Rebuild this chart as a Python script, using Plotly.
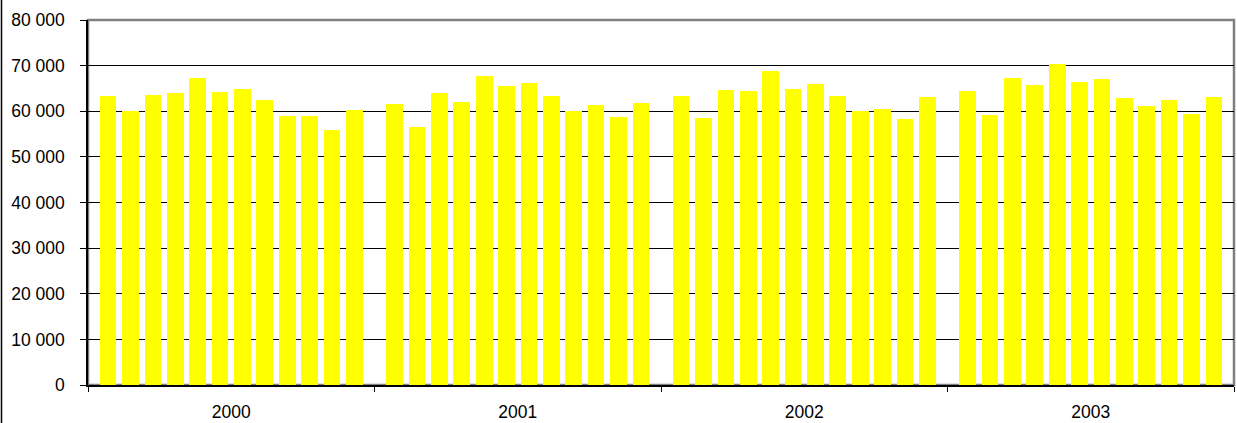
import plotly.graph_objects as go

years = ["2000", "2001", "2002", "2003"]
values_2000 = [63300, 60000, 63500, 63900, 67250, 64200, 64800, 62450, 58950, 58950, 55900, 60250]
values_2001 = [61550, 56550, 63900, 62000, 67700, 65500, 66150, 63300, 60000, 61350, 58700, 61800]
values_2002 = [63300, 58500, 64600, 64400, 68800, 64850, 65950, 63300, 60000, 60450, 58300, 63100]
values_2003 = [64400, 59150, 67250, 65700, 70300, 66350, 67050, 62850, 61100, 62450, 59350, 63100]
y_tickvals = [0, 10000, 20000, 30000, 40000, 50000, 60000, 70000, 80000]
y_ticktext = ["0", "10 000", "20 000", "30 000", "40 000", "50 000", "60 000", "70 000", "80 000"]

series = [values_2000, values_2001, values_2002, values_2003]
YEAR_SPAN = 12.8
OFFSET = (YEAR_SPAN - 11) / 2

xs, ys = [], []
for yi, vals in enumerate(series):
    for m, v in enumerate(vals):
        xs.append(yi * YEAR_SPAN + OFFSET + m)
        ys.append(v)

fig = go.Figure()
fig.add_trace(go.Bar(x=xs, y=ys, width=0.745, marker=dict(color="#FFFF00", line=dict(width=0)),
                     showlegend=False, hoverinfo="y"))

W, H = 1237, 423
ml, mr, mt, mb = 88, 3, 20, 38
fig.update_layout(
    width=W, height=H,
    margin=dict(l=ml, r=mr, t=mt, b=mb, pad=0, autoexpand=False),
    paper_bgcolor="white", plot_bgcolor="white",
    font=dict(family="Liberation Sans, Arial, sans-serif", size=17.5, color="#000000"),
    bargap=0,
)
fig.update_xaxes(
    range=[0, len(years) * YEAR_SPAN],
    tickmode="array",
    tickvals=[yi * YEAR_SPAN + YEAR_SPAN / 2 for yi in range(len(years))],
    ticktext=years,
    ticks="", showgrid=False, zeroline=False,
    showline=True, linecolor="#000000", linewidth=1.5,
    ticklabelstandoff=10,
    automargin=False,
    minor=dict(tickmode="array",
               tickvals=[yi * YEAR_SPAN for yi in range(len(years) + 1)],
               ticks="outside", ticklen=5, tickcolor="#000000", tickwidth=1, showgrid=False),
    fixedrange=True,
)
fig.update_yaxes(
    range=[0, 80000],
    tickmode="array", tickvals=y_tickvals, ticktext=y_ticktext,
    ticks="outside", ticklen=6, tickcolor="#000000", tickwidth=1,
    showgrid=True, gridcolor="#000000", gridwidth=1,
    zeroline=False,
    showline=True, linecolor="#000000", linewidth=1.5,
    ticklabelstandoff=12,
    automargin=False,
    fixedrange=True,
)
# plot-area border (gray top and right)
fig.add_shape(type="rect", xref="paper", yref="paper", x0=0, x1=1, y0=0, y1=1,
              line=dict(color="#808080", width=2.5), layer="below")
# outer chart frame (left edge visible)
fig.add_shape(type="line", xref="paper", yref="paper",
              x0=(1.5 - ml) / (W - ml - mr), x1=(1.5 - ml) / (W - ml - mr),
              y0=-mb / (H - mt - mb), y1=1 + mt / (H - mt - mb),
              line=dict(color="#000000", width=1.5))

fig.write_html("out.html", config={"displayModeBar": False},
               post_script="document.body.style.margin='0px';document.body.style.overflow='hidden';")
